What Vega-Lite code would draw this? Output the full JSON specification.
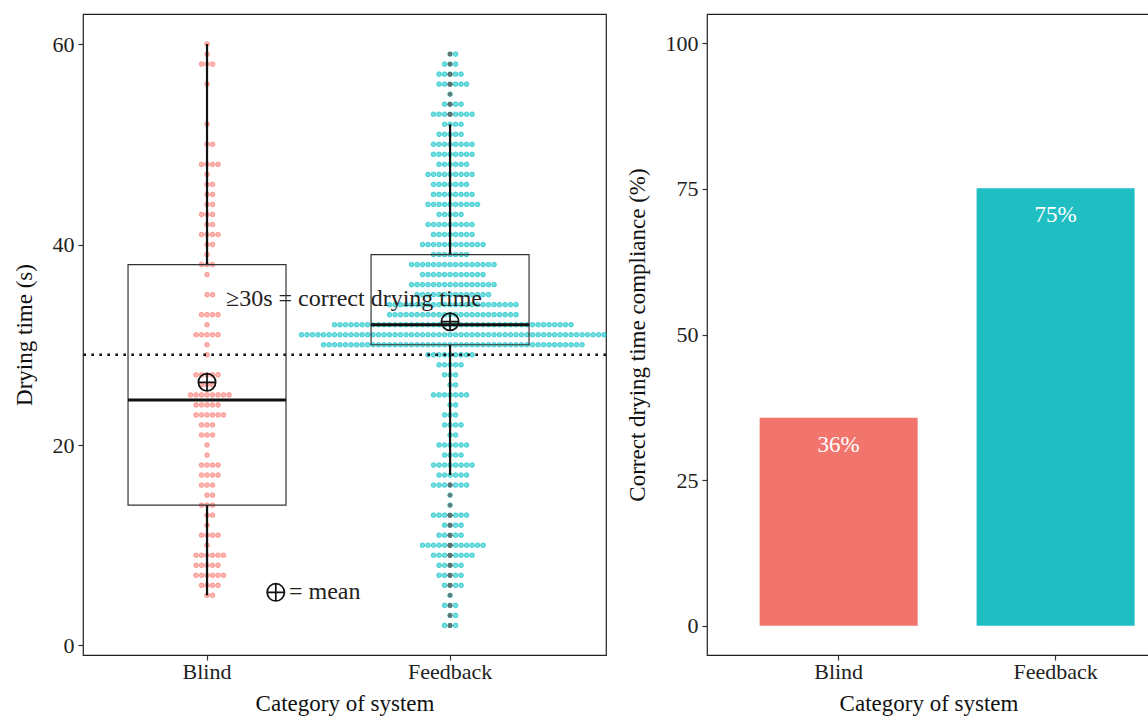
{
  "$schema": "https://vega.github.io/schema/vega-lite/v6.json",
  "padding": {"left": 12, "top": 13, "right": 0, "bottom": 2},
  "background": "white",
  "config": {
    "font": "Liberation Serif",
    "view": {"stroke": "#222222", "strokeWidth": 1.2},
    "axis": {
      "labelFont": "Liberation Serif", "titleFont": "Liberation Serif",
      "labelFontSize": 22, "titleFontSize": 23, "labelColor": "#222222", "titleColor": "#111111",
      "titleFontWeight": "normal", "tickColor": "#333333", "tickSize": 5, "tickWidth": 1.2,
      "domain": false, "grid": false, "labelAngle": 0
    },
    "axisX": {"labelPadding": 1, "titlePadding": 10},
    "axisY": {"labelPadding": 4, "titlePadding": 16}
  },
  "bounds": "flush",
  "spacing": 101,
  "datasets": {
    "compliance": [
      {"system": "Blind", "compliance": 35.7},
      {"system": "Feedback", "compliance": 75.1}
    ],
    "drying": [
      {"system":"Blind","time":60},{"system":"Blind","time":59},
      {"system":"Blind","time":58},{"system":"Blind","time":58},{"system":"Blind","time":58},
      {"system":"Blind","time":56},{"system":"Blind","time":52},
      {"system":"Blind","time":50},{"system":"Blind","time":50},
      {"system":"Blind","time":48},{"system":"Blind","time":48},{"system":"Blind","time":48},{"system":"Blind","time":48},
      {"system":"Blind","time":47},
      {"system":"Blind","time":46},{"system":"Blind","time":46},
      {"system":"Blind","time":45},{"system":"Blind","time":45},
      {"system":"Blind","time":44},{"system":"Blind","time":44},
      {"system":"Blind","time":43},{"system":"Blind","time":43},{"system":"Blind","time":43},
      {"system":"Blind","time":42},{"system":"Blind","time":42},
      {"system":"Blind","time":41},{"system":"Blind","time":41},{"system":"Blind","time":41},{"system":"Blind","time":41},
      {"system":"Blind","time":40},{"system":"Blind","time":40},
      {"system":"Blind","time":39},
      {"system":"Blind","time":38},{"system":"Blind","time":38},{"system":"Blind","time":38},
      {"system":"Blind","time":37},
      {"system":"Blind","time":35},{"system":"Blind","time":35},
      {"system":"Blind","time":33},{"system":"Blind","time":33},{"system":"Blind","time":33},{"system":"Blind","time":33},
      {"system":"Blind","time":32},
      {"system":"Blind","time":31},{"system":"Blind","time":31},{"system":"Blind","time":31},{"system":"Blind","time":31},{"system":"Blind","time":31},
      {"system":"Blind","time":30},{"system":"Blind","time":29},
      {"system":"Blind","time":27},{"system":"Blind","time":27},{"system":"Blind","time":27},{"system":"Blind","time":27},{"system":"Blind","time":27},
      {"system":"Blind","time":26},{"system":"Blind","time":26},{"system":"Blind","time":26},
      {"system":"Blind","time":25},{"system":"Blind","time":25},{"system":"Blind","time":25},{"system":"Blind","time":25},{"system":"Blind","time":25},{"system":"Blind","time":25},{"system":"Blind","time":25},{"system":"Blind","time":25},
      {"system":"Blind","time":24},{"system":"Blind","time":24},{"system":"Blind","time":24},{"system":"Blind","time":24},{"system":"Blind","time":24},
      {"system":"Blind","time":23},{"system":"Blind","time":23},{"system":"Blind","time":23},{"system":"Blind","time":23},{"system":"Blind","time":23},{"system":"Blind","time":23},
      {"system":"Blind","time":22},{"system":"Blind","time":22},{"system":"Blind","time":22},
      {"system":"Blind","time":21},{"system":"Blind","time":21},{"system":"Blind","time":21},
      {"system":"Blind","time":20},{"system":"Blind","time":19},
      {"system":"Blind","time":18},{"system":"Blind","time":18},{"system":"Blind","time":18},{"system":"Blind","time":18},
      {"system":"Blind","time":17},{"system":"Blind","time":17},{"system":"Blind","time":17},{"system":"Blind","time":17},
      {"system":"Blind","time":16},{"system":"Blind","time":16},{"system":"Blind","time":16},
      {"system":"Blind","time":15},{"system":"Blind","time":15},
      {"system":"Blind","time":14},{"system":"Blind","time":14},{"system":"Blind","time":14},
      {"system":"Blind","time":13},{"system":"Blind","time":13},
      {"system":"Blind","time":12},
      {"system":"Blind","time":11},{"system":"Blind","time":11},{"system":"Blind","time":11},{"system":"Blind","time":11},
      {"system":"Blind","time":10},
      {"system":"Blind","time":9},{"system":"Blind","time":9},{"system":"Blind","time":9},{"system":"Blind","time":9},{"system":"Blind","time":9},{"system":"Blind","time":9},
      {"system":"Blind","time":8},{"system":"Blind","time":8},{"system":"Blind","time":8},{"system":"Blind","time":8},{"system":"Blind","time":8},
      {"system":"Blind","time":7},{"system":"Blind","time":7},{"system":"Blind","time":7},{"system":"Blind","time":7},{"system":"Blind","time":7},{"system":"Blind","time":7},
      {"system":"Blind","time":6},{"system":"Blind","time":6},{"system":"Blind","time":6},{"system":"Blind","time":6},
      {"system":"Blind","time":5},{"system":"Blind","time":5},

      {"system":"Feedback","time":59},{"system":"Feedback","time":59},
      {"system":"Feedback","time":58},{"system":"Feedback","time":58},{"system":"Feedback","time":58},
      {"system":"Feedback","time":57},{"system":"Feedback","time":57},{"system":"Feedback","time":57},{"system":"Feedback","time":57},{"system":"Feedback","time":57},
      {"system":"Feedback","time":56},{"system":"Feedback","time":56},{"system":"Feedback","time":56},{"system":"Feedback","time":56},{"system":"Feedback","time":56},{"system":"Feedback","time":56},
      {"system":"Feedback","time":55},
      {"system":"Feedback","time":54},{"system":"Feedback","time":54},{"system":"Feedback","time":54},{"system":"Feedback","time":54},
      {"system":"Feedback","time":53},{"system":"Feedback","time":53},{"system":"Feedback","time":53},{"system":"Feedback","time":53},{"system":"Feedback","time":53},{"system":"Feedback","time":53},{"system":"Feedback","time":53},{"system":"Feedback","time":53},
      {"system":"Feedback","time":52},{"system":"Feedback","time":52},{"system":"Feedback","time":52},{"system":"Feedback","time":52},
      {"system":"Feedback","time":51},{"system":"Feedback","time":51},{"system":"Feedback","time":51},{"system":"Feedback","time":51},{"system":"Feedback","time":51},
      {"system":"Feedback","time":50},{"system":"Feedback","time":50},{"system":"Feedback","time":50},{"system":"Feedback","time":50},{"system":"Feedback","time":50},{"system":"Feedback","time":50},{"system":"Feedback","time":50},{"system":"Feedback","time":50},
      {"system":"Feedback","time":49},{"system":"Feedback","time":49},{"system":"Feedback","time":49},{"system":"Feedback","time":49},{"system":"Feedback","time":49},{"system":"Feedback","time":49},{"system":"Feedback","time":49},{"system":"Feedback","time":49},
      {"system":"Feedback","time":48},{"system":"Feedback","time":48},{"system":"Feedback","time":48},{"system":"Feedback","time":48},{"system":"Feedback","time":48},{"system":"Feedback","time":48},
      {"system":"Feedback","time":47},{"system":"Feedback","time":47},{"system":"Feedback","time":47},{"system":"Feedback","time":47},{"system":"Feedback","time":47},{"system":"Feedback","time":47},{"system":"Feedback","time":47},{"system":"Feedback","time":47},{"system":"Feedback","time":47},
      {"system":"Feedback","time":46},{"system":"Feedback","time":46},{"system":"Feedback","time":46},{"system":"Feedback","time":46},{"system":"Feedback","time":46},{"system":"Feedback","time":46},{"system":"Feedback","time":46},
      {"system":"Feedback","time":45},{"system":"Feedback","time":45},{"system":"Feedback","time":45},{"system":"Feedback","time":45},{"system":"Feedback","time":45},{"system":"Feedback","time":45},{"system":"Feedback","time":45},{"system":"Feedback","time":45},
      {"system":"Feedback","time":44},{"system":"Feedback","time":44},{"system":"Feedback","time":44},{"system":"Feedback","time":44},{"system":"Feedback","time":44},{"system":"Feedback","time":44},{"system":"Feedback","time":44},{"system":"Feedback","time":44},{"system":"Feedback","time":44},{"system":"Feedback","time":44},
      {"system":"Feedback","time":43},{"system":"Feedback","time":43},{"system":"Feedback","time":43},{"system":"Feedback","time":43},{"system":"Feedback","time":43},
      {"system":"Feedback","time":42},{"system":"Feedback","time":42},{"system":"Feedback","time":42},{"system":"Feedback","time":42},{"system":"Feedback","time":42},{"system":"Feedback","time":42},{"system":"Feedback","time":42},{"system":"Feedback","time":42},{"system":"Feedback","time":42},
      {"system":"Feedback","time":41},{"system":"Feedback","time":41},{"system":"Feedback","time":41},{"system":"Feedback","time":41},{"system":"Feedback","time":41},{"system":"Feedback","time":41},{"system":"Feedback","time":41},{"system":"Feedback","time":41},
      {"system":"Feedback","time":40},{"system":"Feedback","time":40},{"system":"Feedback","time":40},{"system":"Feedback","time":40},{"system":"Feedback","time":40},{"system":"Feedback","time":40},{"system":"Feedback","time":40},{"system":"Feedback","time":40},{"system":"Feedback","time":40},{"system":"Feedback","time":40},{"system":"Feedback","time":40},{"system":"Feedback","time":40},
      {"system":"Feedback","time":39},{"system":"Feedback","time":39},{"system":"Feedback","time":39},{"system":"Feedback","time":39},{"system":"Feedback","time":39},{"system":"Feedback","time":39},{"system":"Feedback","time":39},
      {"system":"Feedback","time":38},{"system":"Feedback","time":38},{"system":"Feedback","time":38},{"system":"Feedback","time":38},{"system":"Feedback","time":38},{"system":"Feedback","time":38},{"system":"Feedback","time":38},{"system":"Feedback","time":38},
      {"system":"Feedback","time":38},{"system":"Feedback","time":38},{"system":"Feedback","time":38},{"system":"Feedback","time":38},{"system":"Feedback","time":38},{"system":"Feedback","time":38},{"system":"Feedback","time":38},{"system":"Feedback","time":38},
      {"system":"Feedback","time":37},{"system":"Feedback","time":37},{"system":"Feedback","time":37},{"system":"Feedback","time":37},{"system":"Feedback","time":37},{"system":"Feedback","time":37},{"system":"Feedback","time":37},{"system":"Feedback","time":37},{"system":"Feedback","time":37},{"system":"Feedback","time":37},{"system":"Feedback","time":37},{"system":"Feedback","time":37},
      {"system":"Feedback","time":36},{"system":"Feedback","time":36},{"system":"Feedback","time":36},{"system":"Feedback","time":36},{"system":"Feedback","time":36},{"system":"Feedback","time":36},{"system":"Feedback","time":36},{"system":"Feedback","time":36},
      {"system":"Feedback","time":36},{"system":"Feedback","time":36},{"system":"Feedback","time":36},{"system":"Feedback","time":36},{"system":"Feedback","time":36},{"system":"Feedback","time":36},{"system":"Feedback","time":36},{"system":"Feedback","time":36},
      {"system":"Feedback","time":35},{"system":"Feedback","time":35},{"system":"Feedback","time":35},{"system":"Feedback","time":35},{"system":"Feedback","time":35},{"system":"Feedback","time":35},{"system":"Feedback","time":35},
      {"system":"Feedback","time":35},{"system":"Feedback","time":35},{"system":"Feedback","time":35},{"system":"Feedback","time":35},{"system":"Feedback","time":35},{"system":"Feedback","time":35},{"system":"Feedback","time":35},
      {"system":"Feedback","time":34},{"system":"Feedback","time":34},{"system":"Feedback","time":34},{"system":"Feedback","time":34},{"system":"Feedback","time":34},{"system":"Feedback","time":34},{"system":"Feedback","time":34},{"system":"Feedback","time":34},
      {"system":"Feedback","time":34},{"system":"Feedback","time":34},{"system":"Feedback","time":34},{"system":"Feedback","time":34},{"system":"Feedback","time":34},{"system":"Feedback","time":34},{"system":"Feedback","time":34},{"system":"Feedback","time":34},
      {"system":"Feedback","time":34},{"system":"Feedback","time":34},{"system":"Feedback","time":34},{"system":"Feedback","time":34},{"system":"Feedback","time":34},{"system":"Feedback","time":34},{"system":"Feedback","time":34},{"system":"Feedback","time":34},
      {"system":"Feedback","time":33},{"system":"Feedback","time":33},{"system":"Feedback","time":33},{"system":"Feedback","time":33},{"system":"Feedback","time":33},{"system":"Feedback","time":33},{"system":"Feedback","time":33},{"system":"Feedback","time":33},
      {"system":"Feedback","time":33},{"system":"Feedback","time":33},{"system":"Feedback","time":33},{"system":"Feedback","time":33},{"system":"Feedback","time":33},{"system":"Feedback","time":33},{"system":"Feedback","time":33},{"system":"Feedback","time":33},
      {"system":"Feedback","time":33},{"system":"Feedback","time":33},{"system":"Feedback","time":33},{"system":"Feedback","time":33},{"system":"Feedback","time":33},{"system":"Feedback","time":33},{"system":"Feedback","time":33},{"system":"Feedback","time":33},
      {"system":"Feedback","time":32},{"system":"Feedback","time":32},{"system":"Feedback","time":32},{"system":"Feedback","time":32},{"system":"Feedback","time":32},{"system":"Feedback","time":32},{"system":"Feedback","time":32},{"system":"Feedback","time":32},{"system":"Feedback","time":32},{"system":"Feedback","time":32},{"system":"Feedback","time":32},
      {"system":"Feedback","time":32},{"system":"Feedback","time":32},{"system":"Feedback","time":32},{"system":"Feedback","time":32},{"system":"Feedback","time":32},{"system":"Feedback","time":32},{"system":"Feedback","time":32},{"system":"Feedback","time":32},{"system":"Feedback","time":32},{"system":"Feedback","time":32},{"system":"Feedback","time":32},
      {"system":"Feedback","time":32},{"system":"Feedback","time":32},{"system":"Feedback","time":32},{"system":"Feedback","time":32},{"system":"Feedback","time":32},{"system":"Feedback","time":32},{"system":"Feedback","time":32},{"system":"Feedback","time":32},{"system":"Feedback","time":32},{"system":"Feedback","time":32},{"system":"Feedback","time":32},
      {"system":"Feedback","time":32},{"system":"Feedback","time":32},{"system":"Feedback","time":32},{"system":"Feedback","time":32},{"system":"Feedback","time":32},{"system":"Feedback","time":32},{"system":"Feedback","time":32},{"system":"Feedback","time":32},{"system":"Feedback","time":32},{"system":"Feedback","time":32},{"system":"Feedback","time":32},
      {"system":"Feedback","time":31},{"system":"Feedback","time":31},{"system":"Feedback","time":31},{"system":"Feedback","time":31},{"system":"Feedback","time":31},{"system":"Feedback","time":31},{"system":"Feedback","time":31},{"system":"Feedback","time":31},{"system":"Feedback","time":31},{"system":"Feedback","time":31},{"system":"Feedback","time":31},{"system":"Feedback","time":31},{"system":"Feedback","time":31},{"system":"Feedback","time":31},
      {"system":"Feedback","time":31},{"system":"Feedback","time":31},{"system":"Feedback","time":31},{"system":"Feedback","time":31},{"system":"Feedback","time":31},{"system":"Feedback","time":31},{"system":"Feedback","time":31},{"system":"Feedback","time":31},{"system":"Feedback","time":31},{"system":"Feedback","time":31},{"system":"Feedback","time":31},{"system":"Feedback","time":31},{"system":"Feedback","time":31},{"system":"Feedback","time":31},
      {"system":"Feedback","time":31},{"system":"Feedback","time":31},{"system":"Feedback","time":31},{"system":"Feedback","time":31},{"system":"Feedback","time":31},{"system":"Feedback","time":31},{"system":"Feedback","time":31},{"system":"Feedback","time":31},{"system":"Feedback","time":31},{"system":"Feedback","time":31},{"system":"Feedback","time":31},{"system":"Feedback","time":31},{"system":"Feedback","time":31},{"system":"Feedback","time":31},
      {"system":"Feedback","time":31},{"system":"Feedback","time":31},{"system":"Feedback","time":31},{"system":"Feedback","time":31},{"system":"Feedback","time":31},{"system":"Feedback","time":31},{"system":"Feedback","time":31},{"system":"Feedback","time":31},{"system":"Feedback","time":31},{"system":"Feedback","time":31},{"system":"Feedback","time":31},{"system":"Feedback","time":31},{"system":"Feedback","time":31},{"system":"Feedback","time":31},
      {"system":"Feedback","time":30},{"system":"Feedback","time":30},{"system":"Feedback","time":30},{"system":"Feedback","time":30},{"system":"Feedback","time":30},{"system":"Feedback","time":30},{"system":"Feedback","time":30},{"system":"Feedback","time":30},{"system":"Feedback","time":30},{"system":"Feedback","time":30},{"system":"Feedback","time":30},{"system":"Feedback","time":30},
      {"system":"Feedback","time":30},{"system":"Feedback","time":30},{"system":"Feedback","time":30},{"system":"Feedback","time":30},{"system":"Feedback","time":30},{"system":"Feedback","time":30},{"system":"Feedback","time":30},{"system":"Feedback","time":30},{"system":"Feedback","time":30},{"system":"Feedback","time":30},{"system":"Feedback","time":30},{"system":"Feedback","time":30},
      {"system":"Feedback","time":30},{"system":"Feedback","time":30},{"system":"Feedback","time":30},{"system":"Feedback","time":30},{"system":"Feedback","time":30},{"system":"Feedback","time":30},{"system":"Feedback","time":30},{"system":"Feedback","time":30},{"system":"Feedback","time":30},{"system":"Feedback","time":30},{"system":"Feedback","time":30},{"system":"Feedback","time":30},
      {"system":"Feedback","time":30},{"system":"Feedback","time":30},{"system":"Feedback","time":30},{"system":"Feedback","time":30},{"system":"Feedback","time":30},{"system":"Feedback","time":30},{"system":"Feedback","time":30},{"system":"Feedback","time":30},{"system":"Feedback","time":30},{"system":"Feedback","time":30},{"system":"Feedback","time":30},{"system":"Feedback","time":30},
      {"system":"Feedback","time":29},{"system":"Feedback","time":29},{"system":"Feedback","time":29},{"system":"Feedback","time":29},{"system":"Feedback","time":29},{"system":"Feedback","time":29},{"system":"Feedback","time":29},{"system":"Feedback","time":29},{"system":"Feedback","time":29},
      {"system":"Feedback","time":28},{"system":"Feedback","time":28},{"system":"Feedback","time":28},{"system":"Feedback","time":28},{"system":"Feedback","time":28},
      {"system":"Feedback","time":27},{"system":"Feedback","time":27},{"system":"Feedback","time":27},
      {"system":"Feedback","time":26},{"system":"Feedback","time":26},
      {"system":"Feedback","time":25},{"system":"Feedback","time":25},{"system":"Feedback","time":25},{"system":"Feedback","time":25},{"system":"Feedback","time":25},{"system":"Feedback","time":25},{"system":"Feedback","time":25},
      {"system":"Feedback","time":24},{"system":"Feedback","time":24},
      {"system":"Feedback","time":23},{"system":"Feedback","time":23},{"system":"Feedback","time":23},
      {"system":"Feedback","time":22},{"system":"Feedback","time":22},{"system":"Feedback","time":22},{"system":"Feedback","time":22},
      {"system":"Feedback","time":21},{"system":"Feedback","time":21},
      {"system":"Feedback","time":20},{"system":"Feedback","time":20},{"system":"Feedback","time":20},{"system":"Feedback","time":20},{"system":"Feedback","time":20},{"system":"Feedback","time":20},
      {"system":"Feedback","time":19},{"system":"Feedback","time":19},{"system":"Feedback","time":19},{"system":"Feedback","time":19},
      {"system":"Feedback","time":18},{"system":"Feedback","time":18},{"system":"Feedback","time":18},{"system":"Feedback","time":18},{"system":"Feedback","time":18},{"system":"Feedback","time":18},{"system":"Feedback","time":18},{"system":"Feedback","time":18},
      {"system":"Feedback","time":17},{"system":"Feedback","time":17},{"system":"Feedback","time":17},{"system":"Feedback","time":17},{"system":"Feedback","time":17},{"system":"Feedback","time":17},
      {"system":"Feedback","time":16},{"system":"Feedback","time":16},{"system":"Feedback","time":16},{"system":"Feedback","time":16},{"system":"Feedback","time":16},{"system":"Feedback","time":16},{"system":"Feedback","time":16},
      {"system":"Feedback","time":15},{"system":"Feedback","time":14},
      {"system":"Feedback","time":13},{"system":"Feedback","time":13},{"system":"Feedback","time":13},{"system":"Feedback","time":13},{"system":"Feedback","time":13},{"system":"Feedback","time":13},{"system":"Feedback","time":13},
      {"system":"Feedback","time":12},{"system":"Feedback","time":12},{"system":"Feedback","time":12},{"system":"Feedback","time":12},
      {"system":"Feedback","time":11},{"system":"Feedback","time":11},{"system":"Feedback","time":11},{"system":"Feedback","time":11},{"system":"Feedback","time":11},
      {"system":"Feedback","time":10},{"system":"Feedback","time":10},{"system":"Feedback","time":10},{"system":"Feedback","time":10},{"system":"Feedback","time":10},{"system":"Feedback","time":10},{"system":"Feedback","time":10},{"system":"Feedback","time":10},{"system":"Feedback","time":10},{"system":"Feedback","time":10},{"system":"Feedback","time":10},{"system":"Feedback","time":10},
      {"system":"Feedback","time":9},{"system":"Feedback","time":9},{"system":"Feedback","time":9},{"system":"Feedback","time":9},{"system":"Feedback","time":9},{"system":"Feedback","time":9},{"system":"Feedback","time":9},{"system":"Feedback","time":9},
      {"system":"Feedback","time":8},{"system":"Feedback","time":8},{"system":"Feedback","time":8},{"system":"Feedback","time":8},{"system":"Feedback","time":8},
      {"system":"Feedback","time":7},{"system":"Feedback","time":7},{"system":"Feedback","time":7},{"system":"Feedback","time":7},{"system":"Feedback","time":7},
      {"system":"Feedback","time":6},{"system":"Feedback","time":6},{"system":"Feedback","time":6},{"system":"Feedback","time":6},
      {"system":"Feedback","time":5},
      {"system":"Feedback","time":4},{"system":"Feedback","time":4},{"system":"Feedback","time":4},
      {"system":"Feedback","time":3},{"system":"Feedback","time":3},
      {"system":"Feedback","time":2},{"system":"Feedback","time":2},{"system":"Feedback","time":2}
    ]
  },
  "hconcat": [
    {
      "width": 523,
      "height": 641,
      "data": {"name": "drying"},
      "layer": [
        {
          "transform": [
            {"window": [{"op": "row_number", "as": "rank"}, {"op": "count", "as": "n"}], "groupby": ["system", "time"], "frame": [null, null]},
            {"calculate": "datum.rank - 1 - floor((datum.n - 1) / 2)", "as": "offset"}
          ],
          "mark": {"type": "point", "shape": "circle", "filled": true, "size": 22, "fillOpacity": 0.55, "strokeOpacity": 0.75, "strokeWidth": 0.8},
          "encoding": {
            "x": {"field": "system", "type": "nominal",
                  "scale": {"domain": ["Blind", "Feedback"], "paddingInner": 0, "paddingOuter": 0.076, "align": 0.068},
                  "axis": {"title": "Category of system"}},
            "xOffset": {"field": "offset", "type": "quantitative", "scale": {"domain": [-22.09, 22.09], "nice": false, "zero": false}},
            "y": {"field": "time", "type": "quantitative", "title": "Drying time (s)",
                  "scale": {"domain": [-0.95, 63.0], "nice": false, "zero": false},
                  "axis": {"values": [0, 20, 40, 60], "title": "Drying time (s)"}},
            "fill": {"field": "system", "type": "nominal", "scale": {"domain": ["Blind", "Feedback"], "range": ["#F8766D", "#00BFC4"]}, "legend": null},
            "stroke": {"field": "system", "type": "nominal", "scale": {"domain": ["Blind", "Feedback"], "range": ["#F8766D", "#00BFC4"]}, "legend": null}
          }
        },
        {
          "data": {"values": [{"threshold": 29}]},
          "mark": {"type": "rule", "color": "#111111", "strokeWidth": 2.6, "strokeDash": [2.6, 5.4]},
          "encoding": {"y": {"field": "threshold", "type": "quantitative", "title": "Drying time (s)"}}
        },
        {
          "data": {"values": [{}]},
          "mark": {"type": "text", "text": "≥30s = correct drying time", "fontSize": 24, "align": "left", "baseline": "alphabetic", "color": "#222222"},
          "encoding": {
            "x": {"datum": "Blind", "type": "nominal"},
            "xOffset": {"datum": 3.45, "type": "quantitative"},
            "y": {"datum": 33.9, "type": "quantitative", "title": "Drying time (s)"}
          }
        },
        {
          "mark": {"type": "boxplot", "extent": 1.5, "size": 158, "ticks": false,
                   "box": {"fill": "white", "fillOpacity": 0, "stroke": "#333333", "strokeWidth": 1.2},
                   "median": {"color": "#111111", "thickness": 3, "opacity": 1},
                   "rule": {"color": "#111111", "strokeWidth": 2.2, "opacity": 1},
                   "outliers": {"color": "#627272", "opacity": 0.9, "size": 20, "filled": true}},
          "encoding": {
            "x": {"field": "system", "type": "nominal"},
            "y": {"field": "time", "type": "quantitative", "title": "Drying time (s)"}
          }
        },
        {
          "transform": [{"aggregate": [{"op": "mean", "field": "time", "as": "mean_time"}], "groupby": ["system"]}],
          "mark": {"type": "point", "shape": "M-1,0A1,1 0 1,1 1,0A1,1 0 1,1 -1,0ZM-1,0L1,0M0,-1L0,1", "size": 300, "filled": false, "color": "#111111", "strokeWidth": 1.7, "opacity": 1},
          "encoding": {
            "x": {"field": "system", "type": "nominal"},
            "y": {"field": "mean_time", "type": "quantitative", "title": "Drying time (s)"}
          }
        },
        {
          "data": {"values": [{}]},
          "mark": {"type": "point", "shape": "M-1,0A1,1 0 1,1 1,0A1,1 0 1,1 -1,0ZM-1,0L1,0M0,-1L0,1", "size": 300, "filled": false, "color": "#111111", "strokeWidth": 1.7, "opacity": 1},
          "encoding": {
            "x": {"datum": "Blind", "type": "nominal"},
            "xOffset": {"datum": 12.5, "type": "quantitative"},
            "y": {"datum": 5.3, "type": "quantitative", "title": "Drying time (s)"}
          }
        },
        {
          "data": {"values": [{}]},
          "mark": {"type": "text", "text": "= mean", "fontSize": 24, "align": "left", "baseline": "middle", "color": "#222222"},
          "encoding": {
            "x": {"datum": "Blind", "type": "nominal"},
            "xOffset": {"datum": 14.9, "type": "quantitative"},
            "y": {"datum": 5.3, "type": "quantitative", "title": "Drying time (s)"}
          }
        }
      ]
    },
    {
      "width": 443,
      "height": 641,
      "data": {"name": "compliance"},
      "encoding": {
        "x": {"field": "system", "type": "nominal",
              "scale": {"domain": ["Blind", "Feedback"], "paddingInner": 0.268, "paddingOuter": 0.155, "align": 0.777},
              "axis": {"title": "Category of system"}},
        "y": {"field": "compliance", "type": "quantitative",
              "scale": {"domain": [-5, 105], "nice": false, "zero": true},
              "axis": {"values": [0, 25, 50, 75, 100], "title": "Correct drying time compliance (%)"}}
      },
      "layer": [
        {
          "mark": {"type": "bar", "size": 158},
          "encoding": {
            "color": {"field": "system", "type": "nominal", "scale": {"domain": ["Blind", "Feedback"], "range": ["#F1746D", "#1FBEC2"]}, "legend": null}
          }
        },
        {
          "transform": [{"calculate": "format(datum.compliance, '.0f') + '%'", "as": "label"}],
          "mark": {"type": "text", "fontSize": 23, "color": "white", "baseline": "middle", "dy": 27},
          "encoding": {
            "text": {"field": "label"}
          }
        }
      ]
    }
  ]
}
